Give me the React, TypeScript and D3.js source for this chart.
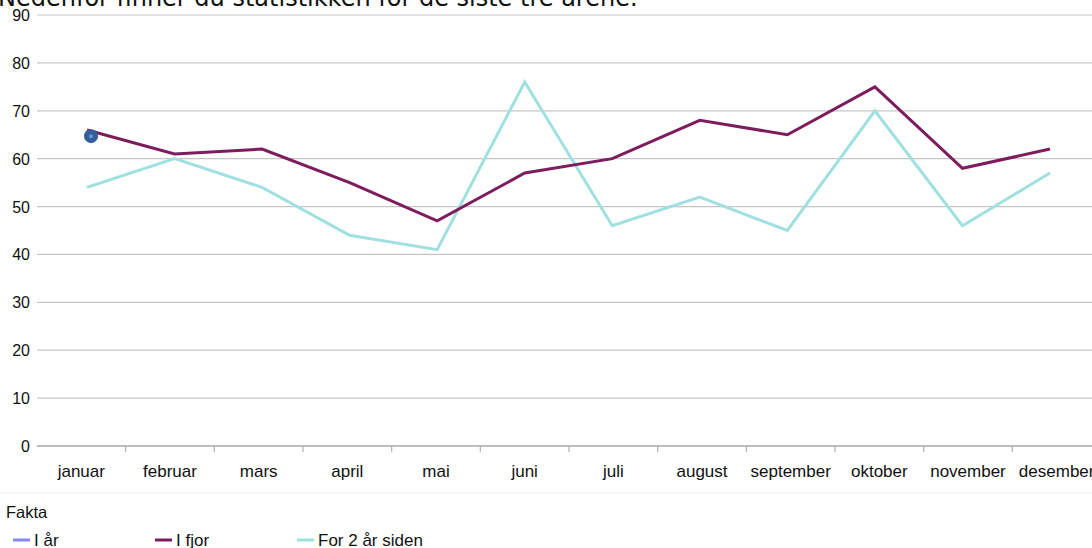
import React, { useRef, useEffect } from "react";
import * as d3 from "d3";

const months = [
  "januar", "februar", "mars", "april", "mai", "juni",
  "juli", "august", "september", "oktober", "november", "desember",
];
const iAar = [64.7];
const iFjor = [66, 61, 62, 55, 47, 57, 60, 68, 65, 75, 58, 62];
const for2Aar = [54, 60, 54, 44, 41, 76, 46, 52, 45, 70, 46, 57];
const yTicks = [0, 10, 20, 30, 40, 50, 60, 70, 80, 90];
const legendNames = ["I år", "I fjor", "For 2 år siden"];
const colors = ["#8888ff", "#7d1d5d", "#a0e0e0"];

const W = 1092;
const H = 548;
const font = "'Liberation Sans', Arial, sans-serif";

const App = () => {
  const ref = useRef<SVGSVGElement>(null);

  useEffect(() => {
    const svg = d3.select(ref.current);
    svg.selectAll("*").remove();

    const band = d3.scaleBand<string>().domain(months).range([37, 1101]);
    const xp = d3.scalePoint<string>().domain(months).range([87, 1050]);
    const y = d3.scaleLinear().domain([0, 90]).range([446, 15]);

    // title, cut off at the top
    svg
      .append("text")
      .attr("x", -2)
      .attr("y", 6)
      .attr("font-family", "'DejaVu Sans', Verdana, sans-serif")
      .attr("font-size", 24)
      .attr("fill", "#111")
      .text("Nedenfor finner du statistikken for de siste tre årene.");

    // grid lines
    svg
      .append("g")
      .selectAll("line")
      .data(yTicks)
      .join("line")
      .attr("x1", 37)
      .attr("x2", W)
      .attr("y1", (d) => y(d))
      .attr("y2", (d) => y(d))
      .attr("stroke", (d) => (d === 0 ? "#a8a8a8" : "#c6c6c6"))
      .attr("stroke-width", (d) => (d === 0 ? 1.5 : 1.2));

    // y labels
    svg
      .append("g")
      .selectAll("text")
      .data(yTicks)
      .join("text")
      .attr("x", 30)
      .attr("y", (d) => y(d) + 6)
      .attr("text-anchor", "end")
      .attr("font-family", font)
      .attr("font-size", 16)
      .attr("fill", "#111")
      .text((d) => d);

    // x ticks between categories
    svg
      .append("g")
      .selectAll("line")
      .data(months.slice(1))
      .join("line")
      .attr("x1", (d) => band(d)!)
      .attr("x2", (d) => band(d)!)
      .attr("y1", 446)
      .attr("y2", 452)
      .attr("stroke", "#b0b0b0")
      .attr("stroke-width", 1.2);

    // x labels
    svg
      .append("g")
      .selectAll("text")
      .data(months)
      .join("text")
      .attr("x", (d) => band(d)! + band.bandwidth() / 2)
      .attr("y", 477)
      .attr("text-anchor", "middle")
      .attr("font-family", font)
      .attr("font-size", 17)
      .attr("fill", "#111")
      .text((d) => d);

    const line = d3
      .line<number>()
      .x((_, i) => xp(months[i])!)
      .y((d) => y(d));

    svg
      .append("path")
      .datum(for2Aar)
      .attr("d", line)
      .attr("fill", "none")
      .attr("stroke", colors[2])
      .attr("stroke-width", 3);

    svg
      .append("path")
      .datum(iFjor)
      .attr("d", line)
      .attr("fill", "none")
      .attr("stroke", colors[1])
      .attr("stroke-width", 3);

    // single point for this year
    const dots = svg.append("g").selectAll("g").data(iAar).join("g");
    dots
      .append("circle")
      .attr("cx", (_, i) => xp(months[i])! + 4)
      .attr("cy", (d) => y(d))
      .attr("r", 7)
      .attr("fill", "#335f96");
    dots
      .append("circle")
      .attr("cx", (_, i) => xp(months[i])! + 4)
      .attr("cy", (d) => y(d))
      .attr("r", 2)
      .attr("fill", "#5a9ae0");

    // separator above legend
    svg
      .append("line")
      .attr("x1", 0)
      .attr("x2", W)
      .attr("y1", 493)
      .attr("y2", 493)
      .attr("stroke", "#ececec");

    svg
      .append("text")
      .attr("x", 6)
      .attr("y", 518)
      .attr("font-family", font)
      .attr("font-size", 16.5)
      .attr("fill", "#111")
      .text("Fakta");

    const leg = svg
      .append("g")
      .selectAll("g")
      .data(legendNames)
      .join("g")
      .attr("transform", (_, i) => `translate(${13 + i * 142},540)`);
    leg
      .append("rect")
      .attr("x", 0)
      .attr("y", -1.5)
      .attr("width", 17)
      .attr("height", 3)
      .attr("fill", (_, i) => colors[i]);
    leg
      .append("text")
      .attr("x", 21)
      .attr("y", 6)
      .attr("font-family", font)
      .attr("font-size", 17)
      .attr("fill", "#111")
      .text((d) => d);
  }, []);

  return (
    <svg
      ref={ref}
      width={W}
      height={H}
      style={{ position: "absolute", left: 0, top: 0, background: "#fff" }}
    />
  );
};

export default App;
